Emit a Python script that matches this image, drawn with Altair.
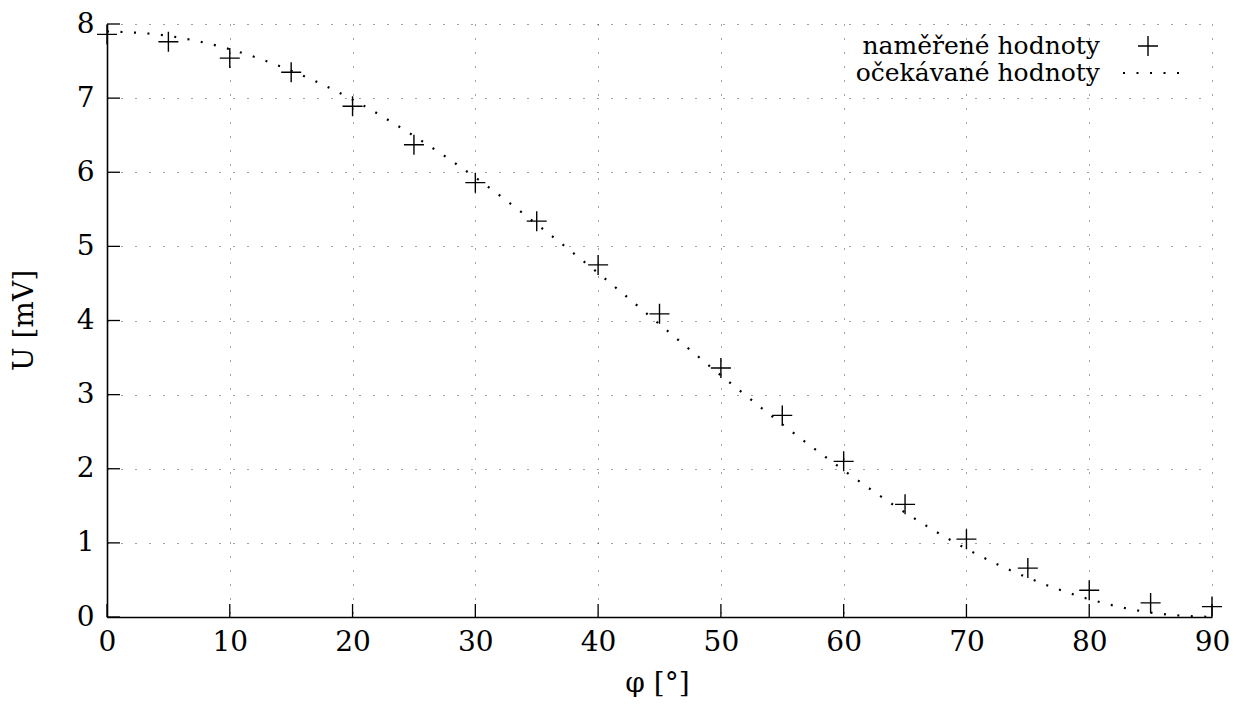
import altair as alt
import pandas as pd

# measured values (crosses)
phi_meas = [0, 5, 10, 15, 20, 25, 30, 35, 40, 45, 50, 55, 60, 65, 70, 75, 80, 85, 90]
u_meas = [7.86, 7.76, 7.54, 7.35, 6.89, 6.37, 5.86, 5.34, 4.75, 4.09, 3.36, 2.72,
          2.10, 1.52, 1.05, 0.66, 0.36, 0.19, 0.14]

# expected values (dotted curve)
phi_exp = [0, 5, 10, 15, 20, 25, 30, 35, 40, 45, 50, 55, 60, 65, 70, 75, 80, 85, 90]
u_exp = [7.90, 7.84, 7.66, 7.37, 6.98, 6.49, 5.93, 5.30, 4.64, 3.95, 3.26, 2.60,
         1.98, 1.41, 0.92, 0.53, 0.24, 0.06, 0.00]

x_ticks = [0, 10, 20, 30, 40, 50, 60, 70, 80, 90]
y_ticks = [0, 1, 2, 3, 4, 5, 6, 7, 8]

legend_labels = ["naměřené hodnoty", "očekávané hodnoty"]

FONT = "DejaVu Serif"
FS = 28
LFS = 25
W, H = 1105, 593

meas = pd.DataFrame({"phi": phi_meas, "U": u_meas})
exp = pd.DataFrame({"phi": phi_exp, "U": u_exp})
xt = pd.DataFrame({"v": x_ticks})
yt = pd.DataFrame({"v": y_ticks})

xscale = alt.Scale(domain=[0, 90], nice=False, zero=False)
yscale = alt.Scale(domain=[0, 8], nice=False, zero=False)

xaxis = alt.Axis(values=x_ticks, format="d", title="φ [°]", grid=True, ticks=False,
                 labelPadding=11, labelFontSize=FS, labelFont=FONT,
                 titleFont=FONT, titleFontSize=FS, titleFontWeight="normal",
                 titleX=550, titleY=66, titleBaseline="middle", titleAlign="center",
                 labelColor="black", titleColor="black", labelFlush=False)
yaxis = alt.Axis(values=y_ticks, format="d", title="U [mV]", grid=True, ticks=False,
                 labelPadding=13, labelFontSize=FS, labelFont=FONT,
                 titleFont=FONT, titleFontSize=FS, titleFontWeight="normal",
                 titleX=-83, titleY=296, titleBaseline="middle", titleAlign="center",
                 titleAngle=-90, labelColor="black", titleColor="black", labelFlush=False)

curve = alt.Chart(exp).mark_line(
    color="black", strokeWidth=2.2, strokeDash=[2, 11.5], interpolate="monotone"
).encode(
    x=alt.X("phi:Q", scale=xscale, axis=xaxis),
    y=alt.Y("U:Q", scale=yscale, axis=yaxis),
)

cross_path = "M-1,0L1,0M0,-1L0,1"
points = alt.Chart(meas).mark_point(
    shape=cross_path, size=400, filled=False, color="black", strokeWidth=1.4, opacity=1
).encode(
    x=alt.X("phi:Q", scale=xscale),
    y=alt.Y("U:Q", scale=yscale),
)

xtick_rules = alt.Chart(xt).mark_rule(color="black", strokeWidth=1.3).encode(
    x=alt.X("v:Q", scale=xscale),
    y=alt.value(H), y2=alt.value(H - 13),
)
ytick_rules = alt.Chart(yt).mark_rule(color="black", strokeWidth=1.3).encode(
    y=alt.Y("v:Q", scale=yscale),
    x=alt.value(0), x2=alt.value(13),
)

leg_df = pd.DataFrame({"label": legend_labels, "ypix": [30, 57]})
leg_text = alt.Chart(leg_df).mark_text(
    align="right", baseline="alphabetic", font=FONT, fontSize=LFS, color="black"
).encode(
    text="label:N",
    x=alt.value(993),
    y=alt.Y("ypix:Q", scale=None),
)
leg_cross = alt.Chart(leg_df.iloc[[0]]).mark_point(
    shape=cross_path, size=400, filled=False, color="black", strokeWidth=1.4, opacity=1
).encode(x=alt.value(1041), y=alt.value(22))
leg_line = alt.Chart(leg_df.iloc[[1]]).mark_rule(
    color="black", strokeWidth=2.2, strokeDash=[2, 11.5]
).encode(x=alt.value(1016), x2=alt.value(1082), y=alt.value(49))

chart = alt.layer(
    curve, points, xtick_rules, ytick_rules, leg_text, leg_cross, leg_line
).properties(
    width=W, height=H,
    autosize=alt.AutoSizeParams(type="none"),
    padding={"left": 99, "top": 16, "right": 17, "bottom": 80},
).configure_view(stroke=None).configure_axis(
    domainColor="black", domainWidth=1.6,
    gridColor="#444", gridDash=[1, 13], gridWidth=1, gridOpacity=1,
)

chart.save("out.html", embed_options={"renderer": "svg", "actions": False})
